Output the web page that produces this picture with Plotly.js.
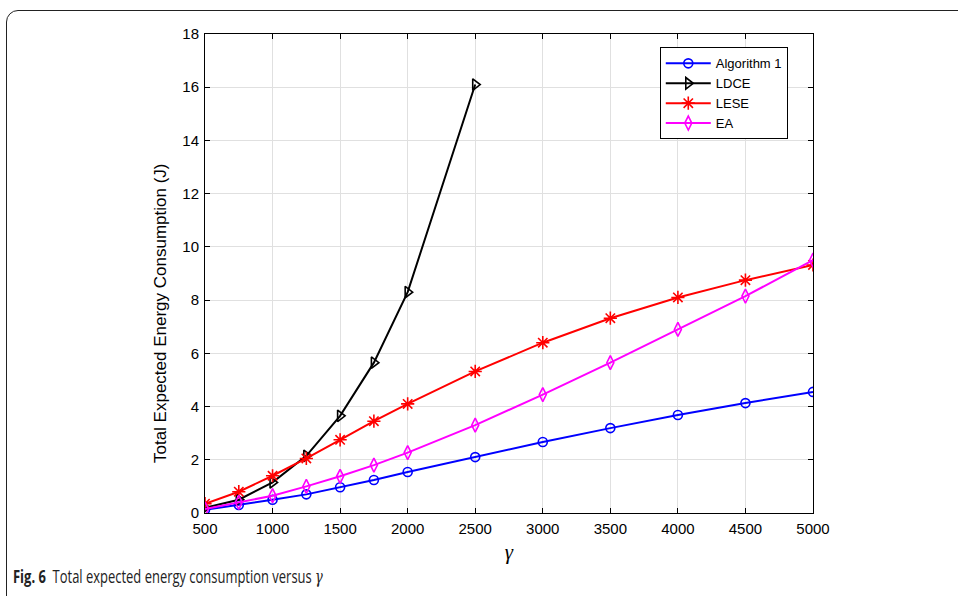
<!DOCTYPE html>
<html><head><meta charset="utf-8">
<script src="https://cdn.plot.ly/plotly-3.0.1.min.js"></script>
<style>
html,body{margin:0;padding:0;background:#fff;}
#wrap{position:relative;width:958px;height:596px;overflow:hidden;}
#card{position:absolute;left:6px;top:10px;width:1000px;height:640px;border:1px solid #222;border-top-left-radius:12px;}
#chart{position:absolute;left:0;top:0;width:958px;height:596px;}
#cap{position:absolute;left:13px;top:564px;font-family:"Open Sans",sans-serif;font-size:18px;color:#222;white-space:nowrap;transform:scaleX(0.72);transform-origin:0 0;}
</style></head>
<body><div id="wrap"><div id="card"></div><div id="chart"></div>
<div id="cap"><b>Fig. 6</b>&nbsp; Total expected energy consumption versus <i style="font-family:'DejaVu Serif',serif">γ</i></div></div>
<script>
const gammaFull = [500,750,1000,1250,1500,1750,2000,2500,3000,3500,4000,4500,5000];
const gammaLDCE = [500,750,1000,1250,1500,1750,2000,2500];
const alg1 = [0.12,0.3,0.5,0.7,0.97,1.24,1.54,2.1,2.67,3.19,3.68,4.13,4.55];
const ldce = [0.2,0.5,1.15,2.15,3.65,5.65,8.3,16.1];
const lese = [0.35,0.8,1.4,2.05,2.75,3.45,4.1,5.32,6.4,7.32,8.1,8.75,9.32];
const ea = [0.15,0.4,0.65,1.0,1.38,1.8,2.27,3.3,4.45,5.65,6.9,8.15,9.5];
const xTicks = [500,1000,1500,2000,2500,3000,3500,4000,4500,5000];
const yTicks = [0,2,4,6,8,10,12,14,16,18];

function tr(name,x,y,color,symbol,size){
  return {x:x,y:y,name:name,type:'scatter',mode:'lines+markers',
    line:{color:color,width:2},
    marker:{symbol:symbol,size:size,color:color,line:{color:color,width:1.6}}};
}
const data=[
  tr('Algorithm 1',gammaFull,alg1,'#0000ff','circle-open',9),
  tr('LDCE',gammaLDCE,ldce,'#000000','triangle-right-open',10),
  tr('LESE',gammaFull,lese,'#ff0000','asterisk-open',11),
  tr('EA',gammaFull,ea,'#ff00ff','diamond-tall-open',10)
];
const fnt='Liberation Sans, Arial, sans-serif';
const ax={showline:true,linecolor:'#000',linewidth:1,mirror:'ticks',ticks:'inside',ticklen:5,tickcolor:'#000',
  showgrid:true,gridcolor:'#e0e0e0',gridwidth:1,zeroline:false,
  tickfont:{family:fnt,size:15,color:'#000'}};
const layout={
  width:958,height:596,paper_bgcolor:'rgba(0,0,0,0)',plot_bgcolor:'#fff',
  margin:{l:205,r:145,t:34,b:83},
  showlegend:true,
  legend:{x:0.748,y:0.972,xanchor:'left',yanchor:'top',bgcolor:'#fff',bordercolor:'#000',borderwidth:1,
    font:{family:fnt,size:13,color:'#000'},tracegroupgap:0,itemwidth:45},
  xaxis:Object.assign({},ax,{range:[500,5000],tickvals:xTicks,ticklabelstandoff:2,
    title:{text:'<i>γ</i>',font:{family:'Liberation Serif, serif',size:21,color:'#000'},standoff:8}}),
  yaxis:Object.assign({},ax,{range:[0,18],tickvals:yTicks,ticklabelstandoff:2}),
  annotations:[{text:'Total Expected Energy Consumption (J)',textangle:-90,xref:'paper',yref:'paper',
    x:-0.074,y:0.4175,xanchor:'center',yanchor:'middle',showarrow:false,
    font:{family:fnt,size:17,color:'#000'}}]
};
Plotly.newPlot('chart',data,layout,{displayModeBar:false,staticPlot:true});
</script></body></html>
